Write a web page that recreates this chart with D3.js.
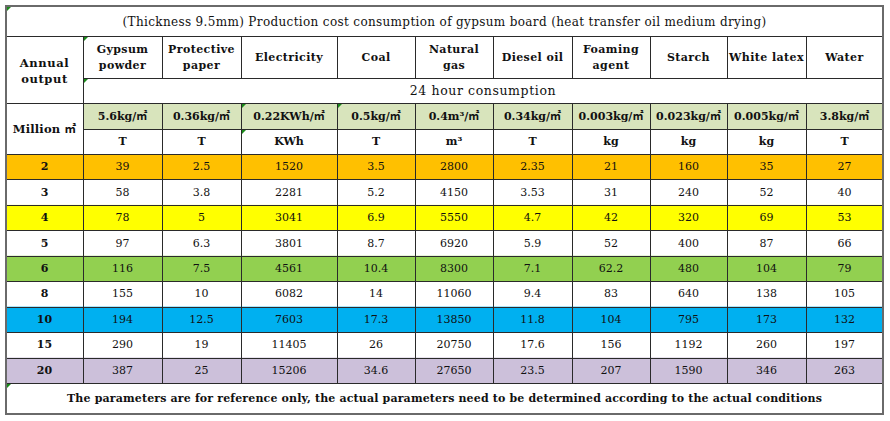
<!DOCTYPE html>
<html>
<head>
<meta charset="utf-8">
<script src="https://cdn.jsdelivr.net/npm/d3@7/dist/d3.min.js"></script>
<style>
body { margin: 0; background: #fff; }
text { font-family: "DejaVu Serif", "Noto Sans CJK KR", serif; fill: #111; }
</style>
</head>
<body>
<div id="chart"></div>
<script>
// data
var title = "(Thickness 9.5mm) Production cost consumption of gypsum board (heat transfer oil medium drying)";
var footnote = "The parameters are for reference only, the actual parameters need to be determined according to the actual conditions";
var firstHeader = ["Annual", "output"];
var firstUnit = "Million ㎡";
var subHeader = "24 hour consumption";
var materials = [["Gypsum", "powder"], ["Protective", "paper"], ["Electricity"], ["Coal"], ["Natural", "gas"],
    ["Diesel oil"], ["Foaming", "agent"], ["Starch"], ["White latex"], ["Water"]];
var rates = ["5.6kg/㎡", "0.36kg/㎡", "0.22KWh/㎡", "0.5kg/㎡", "0.4m³/㎡", "0.34kg/㎡",
    "0.003kg/㎡", "0.023kg/㎡", "0.005kg/㎡", "3.8kg/㎡"];
var units = ["T", "T", "KWh", "T", "m³", "T", "kg", "kg", "kg", "T"];
var outputs = [2, 3, 4, 5, 6, 8, 10, 15, 20];
var consumption = [
    [39, 2.5, 1520, 3.5, 2800, 2.35, 21, 160, 35, 27],
    [58, 3.8, 2281, 5.2, 4150, 3.53, 31, 240, 52, 40],
    [78, 5, 3041, 6.9, 5550, 4.7, 42, 320, 69, 53],
    [97, 6.3, 3801, 8.7, 6920, 5.9, 52, 400, 87, 66],
    [116, 7.5, 4561, 10.4, 8300, 7.1, 62.2, 480, 104, 79],
    [155, 10, 6082, 14, 11060, 9.4, 83, 640, 138, 105],
    [194, 12.5, 7603, 17.3, 13850, 11.8, 104, 795, 173, 132],
    [290, 19, 11405, 26, 20750, 17.6, 156, 1192, 260, 197],
    [387, 25, 15206, 34.6, 27650, 23.5, 207, 1590, 346, 263]
];

// styles / layout
var rowFill = {2: "#FFC000", 4: "#FFFF00", 6: "#92D050", 10: "#00B0F0", 20: "#CCC0DA"};
var rateFill = "#D8E4BC";
var lineColor = "#2a2a2a";
var W = 890, H = 421;
var tLeft = 6, tRight = 883, tTop = 6;
var colWidths = [77, 79, 79, 96, 78, 78, 79, 78, 77, 79, 77];
var edges = [tLeft].concat(Array.from(d3.cumsum(colWidths), function (d) { return tLeft + d; }));
var yTitle = [6, 36], yHead = [36, 78], ySub = [78, 103], yRate = [103, 129], yUnit = [129, 154];
var yFoot = [383, 414];

var svg = d3.select("#chart").append("svg").attr("width", W).attr("height", H);

function cx(i) { return (edges[i] + edges[i + 1]) / 2; }

var y = d3.scaleBand().domain(outputs).range([yUnit[1], yFoot[0]]);

// fills
svg.append("g").selectAll("rect")
    .data(outputs.filter(function (d) { return rowFill[d]; }))
    .enter().append("rect")
    .attr("x", tLeft).attr("width", tRight - tLeft)
    .attr("y", function (d) { return y(d); })
    .attr("height", y.bandwidth())
    .attr("fill", function (d) { return rowFill[d]; });

svg.append("rect")
    .attr("x", edges[1]).attr("width", tRight - edges[1])
    .attr("y", yRate[0]).attr("height", yRate[1] - yRate[0])
    .attr("fill", rateFill);

// grid lines
var g = svg.append("g").attr("stroke", lineColor).attr("stroke-width", 1).attr("shape-rendering", "crispEdges");
var hLines = [
    [tLeft, tRight, yTitle[1]],
    [edges[1], tRight, yHead[1]],
    [tLeft, tRight, yRate[0]],
    [edges[1], tRight, yRate[1]],
    [tLeft, tRight, yUnit[1]]
];
outputs.forEach(function (d) { hLines.push([tLeft, tRight, y(d) + y.bandwidth()]); });
g.selectAll("line.h").data(hLines).enter().append("line").attr("class", "h")
    .attr("x1", function (d) { return d[0]; }).attr("x2", function (d) { return d[1]; })
    .attr("y1", function (d) { return d[2] + 0.5; }).attr("y2", function (d) { return d[2] + 0.5; });

var vLines = [];
for (var i = 1; i < colWidths.length; i++) {
    vLines.push([edges[i], yHead[0], yHead[1]]);
    vLines.push([edges[i], yRate[0], yFoot[0]]);
}
vLines.push([edges[1], yHead[0], yFoot[0]]);
g.selectAll("line.v").data(vLines).enter().append("line").attr("class", "v")
    .attr("x1", function (d) { return d[0] + 0.5; }).attr("x2", function (d) { return d[0] + 0.5; })
    .attr("y1", function (d) { return d[1]; }).attr("y2", function (d) { return d[2]; });

svg.append("rect")
    .attr("x", tLeft).attr("y", tTop)
    .attr("width", tRight - tLeft).attr("height", yFoot[1] - tTop)
    .attr("fill", "none").attr("stroke", "#6a6a6a").attr("stroke-width", 2);

// little green cell markers
var markers = [[tLeft, tTop], [edges[1], yHead[0]], [edges[1], ySub[0]], [edges[3], yRate[0]],
    [edges[3], yUnit[0]], [edges[4], yRate[0]], [tLeft, yFoot[0]]];
svg.append("g").selectAll("path").data(markers).enter().append("path")
    .attr("d", function (d) {
        return "M" + (d[0] + 1) + "," + (d[1] + 1) + "h4l-4,4z";
    })
    .attr("fill", "#1a8a1a");

// text
function addText(tx, ty, str, size, weight, ls) {
    return svg.append("text")
        .attr("x", tx).attr("y", ty)
        .attr("text-anchor", "middle").attr("dominant-baseline", "central")
        .style("font-size", size + "px").style("font-weight", weight || "normal")
        .style("letter-spacing", (ls || 0) + "px")
        .text(str);
}

addText((tLeft + tRight) / 2, (yTitle[0] + yTitle[1]) / 2 + 1, title, 12, "normal", 0.35);
addText(cx(0), 63, firstHeader[0], 11.5, "bold", 0.6);
addText(cx(0), 79, firstHeader[1], 11.5, "bold", 0.6);
addText(cx(0), 129, firstUnit, 11.5, "bold", 0.2);
addText((edges[1] + tRight) / 2, (ySub[0] + ySub[1]) / 2, subHeader, 12.5, "normal", 0.6);
addText((tLeft + tRight) / 2, (yFoot[0] + yFoot[1]) / 2, footnote, 11, "bold", 0.15);

materials.forEach(function (m, i) {
    var mid = (yHead[0] + yHead[1]) / 2;
    m.forEach(function (line, k) {
        var ty = m.length === 1 ? mid : mid + (k - 0.5) * 16;
        addText(cx(i + 1), ty, line, 11, "bold", 0.4);
    });
});

svg.append("g").selectAll("text").data(rates).enter().append("text")
    .attr("x", function (d, i) { return cx(i + 1); })
    .attr("y", (yRate[0] + yRate[1]) / 2)
    .attr("text-anchor", "middle").attr("dominant-baseline", "central")
    .style("font-size", "11px").style("font-weight", "bold")
    .text(function (d) { return d; });

svg.append("g").selectAll("text").data(units).enter().append("text")
    .attr("x", function (d, i) { return cx(i + 1); })
    .attr("y", (yUnit[0] + yUnit[1]) / 2)
    .attr("text-anchor", "middle").attr("dominant-baseline", "central")
    .style("font-size", "11px").style("font-weight", "bold")
    .text(function (d) { return d; });

var rows = svg.append("g").selectAll("g").data(outputs).enter().append("g")
    .attr("transform", function (d) { return "translate(0," + (y(d) + y.bandwidth() / 2) + ")"; });
rows.append("text")
    .attr("x", cx(0)).attr("text-anchor", "middle").attr("dominant-baseline", "central")
    .style("font-size", "11px").style("font-weight", "bold")
    .text(function (d) { return d; });
rows.selectAll("text.val")
    .data(function (d, r) { return consumption[r]; })
    .enter().append("text").attr("class", "val")
    .attr("x", function (d, i) { return cx(i + 1); })
    .attr("text-anchor", "middle").attr("dominant-baseline", "central")
    .style("font-size", "11px")
    .text(function (d) { return d; });
</script>
</body>
</html>
